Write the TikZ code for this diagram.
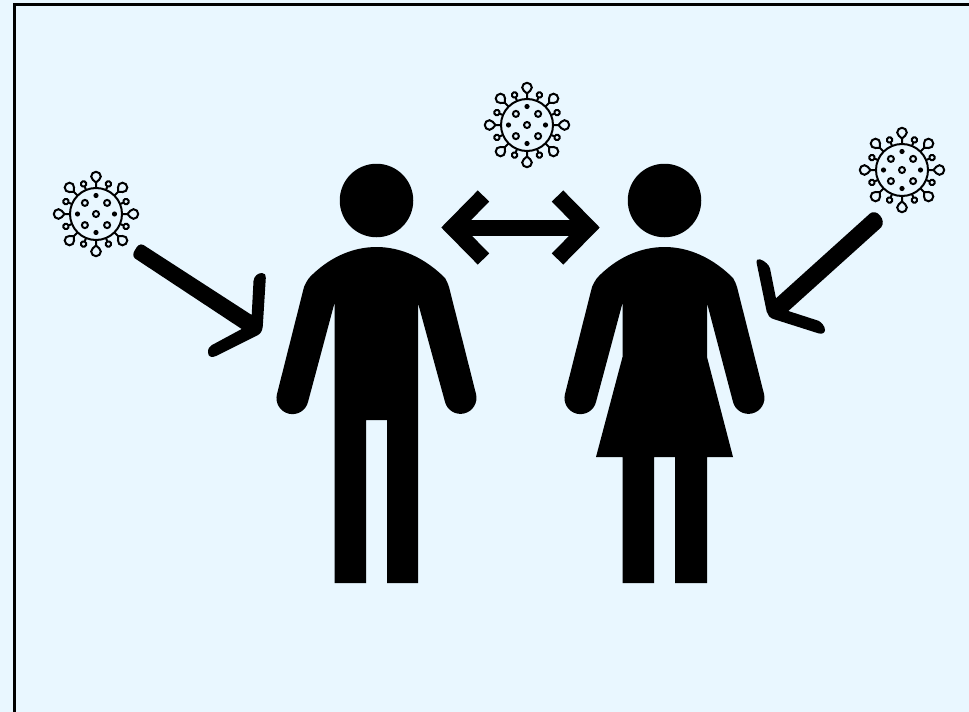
\documentclass[tikz,border=0pt]{standalone}
\usepackage{tikz}

\definecolor{skyback}{HTML}{E9F7FF}

\newcommand{\virus}[2]{%
	\begin{scope}[shift={(#1,#2)}]
		\draw[viral] (0,0) circle (26);
		\foreach \a in {0,45,...,315} {
			\draw[viral, rotate=\a] (26,0) -- (31.5,0) .. controls (33.5,-2.2) and (35,-4.8) .. (37.5,-4.8)
				.. controls (40.2,-4.8) and (42.2,-2.6) .. (42.2,0) .. controls (42.2,2.6) and (40.2,4.8) .. (37.5,4.8)
				.. controls (35,4.8) and (33.5,2.2) .. (31.5,0);
			\draw[viral, rotate=\a+22.5] (26,0) -- (29.8,0);
			\draw[viral, rotate=\a+22.5] (32.5,0) circle (2.7);
		}
		\draw[viral] (0,0) circle (3);
		\foreach \a in {45,135,225,315} {
			\draw[viral, rotate=\a] (15.7,0) circle (3);
		}
		\foreach \a in {0,90,180,270} {
			\fill[spot, rotate=\a] (18.5,0) circle (2.6);
		}
	\end{scope}
}

\begin{document}
\begin{tikzpicture}[
		x=1pt, y=-1pt,
		viral/.style={draw=black, line width=2pt},
		spot/.style={fill=black},
		head/.style={circle, fill=black, minimum size=73.5pt, inner sep=0pt},
		limb/.style={fill=black},
		swap/.style={draw=black, line width=16pt, miter limit=10}]

	% ===== tlo i ramka =====
	\useasboundingbox (0,0) rectangle (969,712);
	\fill[skyback] (0,0) rectangle (969,712);
	\draw[line width=3pt] (14.5,712) -- (14.5,4) -- (969,4);

	% ===== mezczyzna =====
	\begin{scope}
		\node[head] (manhead) at (376.5,200.5) {};
		\fill[limb] (309,278) .. controls (328,258) and (352,247) .. (376.5,247)
			.. controls (401,247) and (425,258) .. (445,278)
			.. controls (447,281) and (448,284) .. (449,287)
			-- (476,394) arc (-14:166:16)
			-- (418,303) -- (418,583) -- (387,583) -- (387,420) -- (366,420) -- (366,583)
			-- (334.5,583) -- (334.5,303) -- (308,402) arc (14:194:16)
			-- (304,287) .. controls (305,284) and (307,281) .. (309,278) -- cycle;
	\end{scope}

	% ===== kobieta =====
	\begin{scope}[xshift=288pt]
		\node[head] (womanhead) at (376.5,200.5) {};
		\fill[limb] (309,278) .. controls (328,258) and (352,247) .. (376.5,247)
			.. controls (401,247) and (425,258) .. (445,278)
			.. controls (447,281) and (448,284) .. (449,287)
			-- (476,394) arc (-14:166:16)
			-- (419,303) -- (419,357) -- (445,457) -- (419,457) -- (419,583) -- (387,583) -- (387,457)
			-- (366,457) -- (366,583) -- (334.5,583) -- (334.5,457) -- (308,457) -- (334.5,357) -- (334.5,303)
			-- (308,402) arc (14:194:16)
			-- (304,287) .. controls (305,284) and (307,281) .. (309,278) -- cycle;
	\end{scope}

	% ===== strzalka miedzy postaciami =====
	\coordinate (swapl) at (452.5,227.5);
	\coordinate (swapr) at (588.5,227.5);
	\draw[swap] (swapl) -- (swapr);
	\draw[swap] (483.5,196) -- (swapl) -- (483.5,259);
	\draw[swap] (557.5,196) -- (swapr) -- (557.5,259);

	% ===== strzalki od wirusow =====
	\fill[limb] (143.5,245) -- (251.7,315) -- (253.5,281)
		.. controls (254,276) and (258,273) .. (262,273)
		.. controls (265,273) and (266,275) .. (265.8,278)
		-- (262.8,326) .. controls (262.5,330) and (261,333.5) .. (258,335)
		-- (216,356) .. controls (212,358) and (208,357) .. (208,352.5)
		.. controls (208,349) and (209,346.5) .. (212,345)
		-- (241.7,329) -- (135,258.5)
		.. controls (132.5,256.5) and (133,252.5) .. (135,250)
		.. controls (137,246) and (140,243) .. (143.5,245) -- cycle;

	\fill[limb] (870,213.5) .. controls (873,211) and (877,212) .. (880,215.5)
		.. controls (883,219) and (884,224) .. (881,227.5)
		-- (788.3,311) -- (818.3,320.7)
		.. controls (821,322) and (825,326) .. (825,330)
		.. controls (825,333) and (822,334.5) .. (818.3,333.3)
		-- (773.3,319) .. controls (770,318) and (767.5,315) .. (766.7,311.7)
		-- (756.7,263.3) .. controls (756,260) and (758,258.5) .. (760,259.3)
		.. controls (765,261) and (769,265) .. (770,268.3)
		-- (776,298.3) -- cycle;

	% ===== wirusy =====
	\virus{527}{125}
	\virus{96}{214}
	\virus{902}{170}
\end{tikzpicture}
\end{document}
